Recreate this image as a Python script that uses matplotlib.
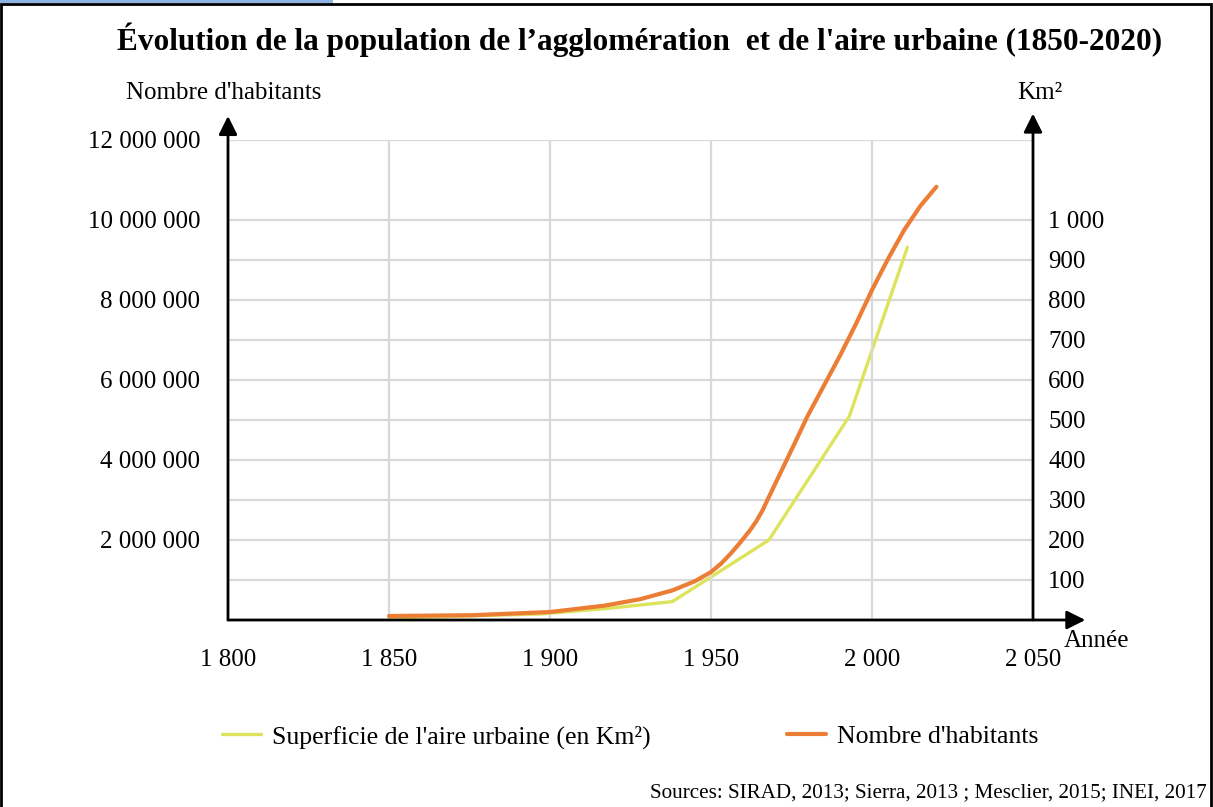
import numpy as np
import matplotlib.pyplot as plt
from matplotlib.patches import Rectangle

plt.rcParams['font.family'] = ['Liberation Serif', 'DejaVu Serif']

# population de l'agglomération (habitants)
annees_pop = [1850, 1876, 1900, 1917, 1928, 1938, 1945, 1950, 1953, 1956, 1959, 1962,
              1964, 1966, 1968, 1972, 1976, 1980, 1985, 1990, 1995, 2000, 2005, 2010,
              2015, 2020]
habitants = [100000, 120000, 200000, 360000, 520000, 740000, 970000, 1200000, 1400000,
             1650000, 1930000, 2230000, 2460000, 2740000, 3080000, 3750000, 4420000,
             5100000, 5850000, 6600000, 7400000, 8250000, 9030000, 9750000, 10350000,
             10830000]

# superficie de l'aire urbaine (km²)
annees_sup = [1850, 1897, 1918, 1938, 1968, 1993, 2011]
superficie = [5, 15, 29, 46, 200, 510, 932]

ticks_x = [1800, 1850, 1900, 1950, 2000, 2050]
ticks_pop = [2000000, 4000000, 6000000, 8000000, 10000000, 12000000]
ticks_km = [100, 200, 300, 400, 500, 600, 700, 800, 900, 1000]

orange = '#EB7D35'
jaune = '#DDE45C'
gris = '#D9D9D9'

def esp(v):
    return f"{v:,}".replace(",", " ")

fig = plt.figure(figsize=(12.13, 8.07), dpi=100)
ax = fig.add_axes([228 / 1213, 1 - 620 / 807, 805 / 1213, 480 / 807])
ax2 = ax.twinx()

ax.set_xlim(1800, 2050)
ax.set_ylim(0, 12000000)
ax2.set_ylim(0, 1200)

# grille
for v in ticks_km:
    ax2.axhline(v, color=gris, lw=1.6, zorder=0)
ax.axhline(12000000, color=gris, lw=1.6, zorder=0)
for x in ticks_x[1:-1]:
    ax.axvline(x, color=gris, lw=1.6, zorder=0)

ax2.plot(annees_sup, superficie, color=jaune, lw=2.4, solid_capstyle='round',
         label="Superficie de l'aire urbaine (en Km²)", zorder=3)
ax.plot(annees_pop, habitants, color=orange, lw=3, solid_capstyle='round',
        solid_joinstyle='round', label="Nombre d'habitants", zorder=4)
ax.set_zorder(ax2.get_zorder() + 1)
ax.patch.set_visible(False)

ax.set_xticks(ticks_x)
ax.set_xticklabels([esp(t) for t in ticks_x])
ax.set_yticks(ticks_pop)
ax.set_yticklabels([esp(t) for t in ticks_pop])
ax2.set_yticks(ticks_km)
ax2.set_yticklabels([esp(t) for t in ticks_km])
ax.tick_params(axis='x', length=0, pad=21, labelsize=18)
ax.tick_params(axis='y', length=0, pad=20, labelsize=18)
ax2.tick_params(axis='y', length=0, pad=11, labelsize=18)
for a in (ax, ax2):
    for s in a.spines.values():
        s.set_visible(False)

# axes fléchés
fl = dict(arrowstyle='-|>', color='black', lw=2, mutation_scale=28, shrinkA=0, shrinkB=0)
ax.annotate('', xy=(0, 1.05), xytext=(0, 0), xycoords='axes fraction', arrowprops=fl,
            annotation_clip=False)
ax.annotate('', xy=(1, 1.055), xytext=(1, 0), xycoords='axes fraction', arrowprops=fl,
            annotation_clip=False)
ax.annotate('', xy=(1.065, 0), xytext=(0, 0), xycoords='axes fraction', arrowprops=fl,
            annotation_clip=False)

fig.text(224 / 1213, 1 - 93 / 807, "Nombre d'habitants", ha='center', va='center', fontsize=18)
fig.text(1040 / 1213, 1 - 93 / 807, "Km²", ha='center', va='center', fontsize=18)
fig.text(1097 / 1213, 1 - 641 / 807, "Année", ha='center', va='center', fontsize=18)

fig.text(640 / 1213, 1 - 40 / 807,
         "Évolution de la population de l’agglomération  et de l'aire urbaine (1850-2020)",
         ha='center', va='center', fontsize=22.5, fontweight='bold')

h1, l1 = ax2.get_legend_handles_labels()
h2, l2 = ax.get_legend_handles_labels()
fig.legend(h1 + h2, l1 + l2, loc='center left', bbox_to_anchor=(199 / 1213, 1 - 737 / 807),
           ncol=2, frameon=False, fontsize=18.5, handlelength=1.5, columnspacing=5.3,
           handletextpad=0.45)

fig.text(1207 / 1213, 1 - 793 / 807,
         "Sources: SIRAD, 2013; Sierra, 2013 ; Mesclier, 2015; INEI, 2017",
         ha='right', va='center', fontsize=15.2)

fig.add_artist(Rectangle((0, 1 - 3 / 807), 333 / 1213, 3 / 807, transform=fig.transFigure,
                         color='#8DB4E2', lw=0))
fig.add_artist(Rectangle((1 / 1213, -0.01), 1210 / 1213, 1 - 4 / 807 + 0.01,
                         transform=fig.transFigure, fill=False, lw=2, ec='black'))

fig.savefig('out.png', dpi=100)
